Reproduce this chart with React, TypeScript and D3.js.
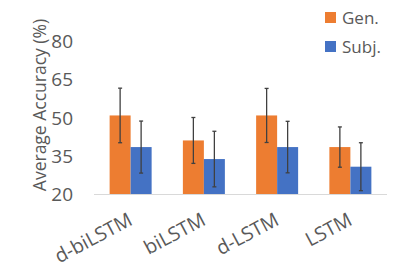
import React from "react";
import * as d3 from "d3";

const categories = ["d-biLSTM", "biLSTM", "d-LSTM", "LSTM"];
const seriesNames = ["Gen.", "Subj."];
const genValues = [51.0, 41.2, 51.0, 38.6];
const genErrors = [10.7, 9.0, 10.6, 7.9];
const subjValues = [38.6, 33.9, 38.6, 30.9];
const subjErrors = [10.2, 10.9, 10.1, 9.4];
const yTicks = [20, 35, 50, 65, 80];
const colors = ["#ED7D31", "#4472C4"];

const W = 399;
const H = 273;
const FONT = "'Open Sans', 'Noto Sans', sans-serif";

export default function App() {
  const x = d3.scaleBand<string>().domain(categories).range([94, 387]).paddingInner(0).paddingOuter(0);
  const y = d3.scaleLinear().domain([20, 80]).range([194.5, 41.5]);
  const inner = d3.scaleBand<number>().domain([0, 1]).range([0, 42]);
  const series = [
    { vals: genValues, errs: genErrors },
    { vals: subjValues, errs: subjErrors },
  ];
  const textColor = "#595959";
  return (
    <svg width={W} height={H} style={{ position: "absolute", left: 0, top: 0, background: "#fff" }}>
      {yTicks.map((t) => (
        <text key={t} x={73} y={y(t)} dy="0.35em" textAnchor="end" fontSize={19} fill={textColor} fontFamily={FONT}>
          {t}
        </text>
      ))}
      <g transform="translate(46,105)">
        <text transform="rotate(-90)" textAnchor="middle" fontSize={17.5} fill={textColor} fontFamily={FONT}>
          Average Accuracy (%)
        </text>
      </g>
      {categories.map((c, i) => {
        const cx = (x(c) ?? 0) + x.bandwidth() / 2;
        return (
          <g key={c}>
            {series.map((s, j) => {
              const bx = cx - 21 + (inner(j) ?? 0);
              const bw = inner.bandwidth();
              const v = s.vals[i];
              const e = s.errs[i];
              const mx = bx + bw / 2;
              return (
                <g key={j}>
                  <rect x={bx} y={y(v)} width={bw} height={y(20) - y(v)} fill={colors[j]} />
                  <line x1={mx} x2={mx} y1={y(v + e)} y2={y(v - e)} stroke="#404040" strokeWidth={1.3} />
                  <line x1={mx - 2} x2={mx + 2} y1={y(v + e)} y2={y(v + e)} stroke="#404040" strokeWidth={1.3} />
                  <line x1={mx - 2} x2={mx + 2} y1={y(v - e)} y2={y(v - e)} stroke="#404040" strokeWidth={1.3} />
                </g>
              );
            })}
            <g transform={"translate(" + (cx + 3) + ",224) rotate(-28)"}>
              <text textAnchor="end" fontSize={19.5} fill={textColor} fontFamily={FONT}>{c}</text>
            </g>
          </g>
        );
      })}
      <line x1={94} x2={387} y1={y(20)} y2={y(20)} stroke="#D9D9D9" strokeWidth={1} />
      {seriesNames.map((n, j) => (
        <g key={n}>
          <rect x={325} y={12 + j * 29} width={11} height={11} fill={colors[j]} />
          <text x={342} y={23.5 + j * 29} fontSize={17} fill={textColor} fontFamily={FONT}>
            {n}
          </text>
        </g>
      ))}
    </svg>
  );
}
